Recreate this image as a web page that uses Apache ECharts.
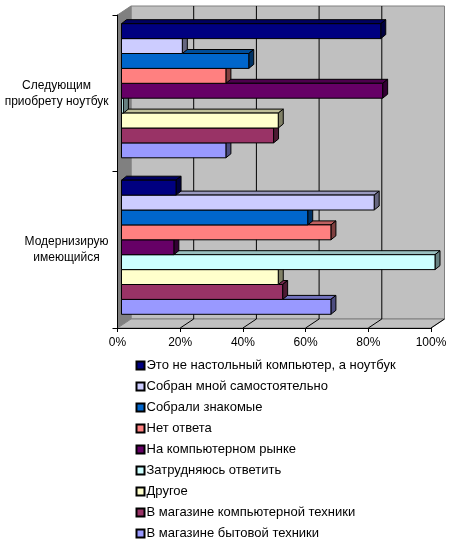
<!DOCTYPE html>
<html>
<head>
<meta charset="utf-8">
<style>
  html, body { margin: 0; padding: 0; background: #fff; }
  #chart { width: 450px; height: 540px; }
</style>
<script src="https://cdn.jsdelivr.net/npm/echarts@6/dist/echarts.min.js"></script>
</head>
<body>
<div id="chart"></div>
<script>
const categories = ['Следующим\nприобрету ноутбук', 'Модернизирую\nимеющийся'];
const seriesNames = [
    'Это не настольный компьютер, а ноутбук',
    'Собран мной самостоятельно',
    'Собрали знакомые',
    'Нет ответа',
    'На компьютерном рынке',
    'Затрудняюсь ответить',
    'Другое',
    'В магазине компьютерной техники',
    'В магазине бытовой техники'
];
const colors = ['#000080', '#CCCCFF', '#0066CC', '#FF8080', '#660066', '#CCFFFF', '#FFFFCC', '#993366', '#9999FF'];
const notebook = [82.7, 19.4, 40.6, 33.3, 83.3, 0.6, 50, 48.5, 33.3];
const upgrade = [17.4, 80.6, 59.4, 66.8, 16.7, 100, 50, 51.4, 66.8];
const xTicks = [0, 20, 40, 60, 80, 100];

const wallDepth = [13.5, -9];
const barShift = [4, -2.5];
const barDepth = [5, -4];
const barHeight = 14.9;

// darker face colour for the top and the side of a bar
function shade(hex, factor) {
    const n = parseInt(hex.slice(1), 16);
    const r = Math.round((n >> 16 & 255) * factor);
    const g = Math.round((n >> 8 & 255) * factor);
    const b = Math.round((n & 255) * factor);
    return 'rgb(' + r + ',' + g + ',' + b + ')';
}

function poly(points, fill, stroke) {
    return {
        type: 'polygon',
        shape: {points: points},
        style: {fill: fill, stroke: stroke || '#000', lineWidth: 1}
    };
}

function renderWalls(params, api) {
    const x = api.coord([api.value(0), 0])[0];
    const cs = params.coordSys;
    const top = cs.y, bottom = cs.y + cs.height, left = cs.x, right = cs.x + cs.width;
    const dx = wallDepth[0], dy = wallDepth[1];
    const children = [];
    if (params.dataIndex === 0) {
        children.push(poly([[left + dx, top + dy], [right + dx, top + dy], [right + dx, bottom + dy], [left + dx, bottom + dy]], '#C0C0C0', '#808080'));
        children.push(poly([[left, top], [left + dx, top + dy], [left + dx, bottom + dy], [left, bottom]], '#808080', '#808080'));
        children.push(poly([[left, bottom], [left + dx, bottom + dy], [right + dx, bottom + dy], [right, bottom]], '#C0C0C0', '#808080'));
    }
    if (x > left && x < right) {
        children.push({type: 'line', shape: {x1: x + dx, y1: top + dy, x2: x + dx, y2: bottom + dy}, style: {stroke: '#000', lineWidth: 1}});
    }
    if (x > left) {
        children.push({type: 'line', shape: {x1: x, y1: bottom, x2: x + dx, y2: bottom + dy}, style: {stroke: '#000', lineWidth: 1}});
    }
    return {type: 'group', children: children};
}

function makeRenderBar(i) {
    return function (params, api) {
        const start = api.coord([0, api.value(1)]);
        const end = api.coord([api.value(0), api.value(1)]);
        const y0 = start[1] + barShift[1] + (i - seriesNames.length / 2) * barHeight;
        const y1 = y0 + barHeight;
        const x0 = start[0] + barShift[0];
        const x1 = end[0] + barShift[0];
        const dx = barDepth[0], dy = barDepth[1];
        return {
            type: 'group',
            children: [
                poly([[x0, y0], [x0 + dx, y0 + dy], [x1 + dx, y0 + dy], [x1, y0]], shade(colors[i], 0.75)),
                poly([[x1, y0], [x1 + dx, y0 + dy], [x1 + dx, y1 + dy], [x1, y1]], shade(colors[i], 0.5)),
                poly([[x0, y0], [x1, y0], [x1, y1], [x0, y1]], colors[i])
            ]
        };
    };
}

const barSeries = seriesNames.map(function (name, i) {
    return {
        name: name,
        type: 'custom',
        z: 30 - i,
        renderItem: makeRenderBar(i),
        itemStyle: {color: colors[i], borderColor: '#000', borderWidth: 1},
        encode: {x: 0, y: 1},
        data: [[notebook[i], 0], [upgrade[i], 1]]
    };
});

const myChart = echarts.init(document.getElementById('chart'));
myChart.setOption({
    animation: false,
    backgroundColor: '#fff',
    textStyle: {fontFamily: 'Liberation Sans'},
    grid: {left: 117.5, top: 15, width: 313.5, height: 313},
    legend: {
        orient: 'vertical',
        left: 135.5,
        top: 359,
        height: 190,
        padding: 0,
        icon: 'rect',
        itemWidth: 8,
        itemHeight: 8,
        itemGap: 8,
        selectedMode: false,
        textStyle: {fontSize: 13, color: '#000', padding: [0, 0, 0, -3]},
        data: seriesNames
    },
    xAxis: {
        type: 'value',
        min: 0,
        max: 100,
        interval: 20,
        z: 5,
        splitLine: {show: false},
        axisLine: {show: true, lineStyle: {color: '#000'}},
        axisTick: {show: true, length: 4, lineStyle: {color: '#000'}},
        axisLabel: {formatter: '{value}%', fontSize: 12, color: '#000', margin: 9, hideOverlap: false}
    },
    yAxis: {
        type: 'category',
        inverse: true,
        z: 5,
        data: categories,
        axisLine: {show: true, lineStyle: {color: '#000'}},
        axisTick: {show: true, length: 5, lineStyle: {color: '#000'}},
        axisLabel: {
            margin: 9,
            interval: 0,
            align: 'right',
            formatter: function (value) {
                return value.split('\n').map(function (line) { return '{c|' + line + '}'; }).join('\n');
            },
            rich: {c: {align: 'center', fontSize: 12, lineHeight: 16, color: '#000', fontFamily: 'Liberation Sans'}}
        }
    },
    series: [{
        type: 'custom',
        z: 1,
        silent: true,
        renderItem: renderWalls,
        encode: {x: 0},
        data: xTicks.map(function (t) { return [t]; })
    }].concat(barSeries)
});
</script>
</body>
</html>
